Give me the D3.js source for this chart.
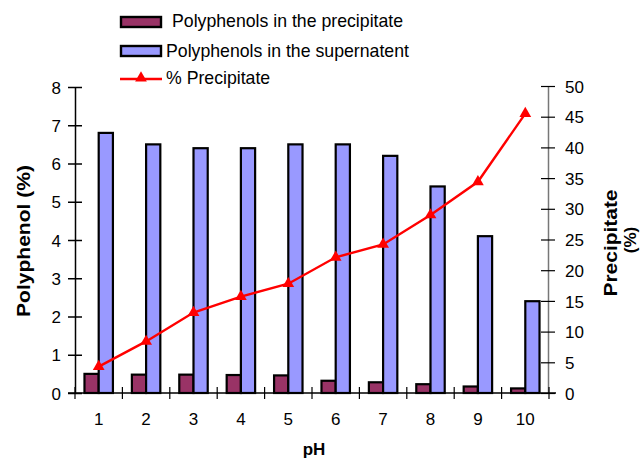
<!DOCTYPE html>
<html>
<head>
<meta charset="utf-8">
<script src="https://cdn.jsdelivr.net/npm/d3@7"></script>
<style>
  body { margin: 0; background: #fff; }
  svg { display: block; font-family: "Liberation Sans", Arial, sans-serif; }
  svg text { font-family: "Liberation Sans", Arial, sans-serif; }
</style>
</head>
<body>
<svg id="chart" width="644" height="458"></svg>
<script>
// pH categories and measured series
const phLevels = ["1", "2", "3", "4", "5", "6", "7", "8", "9", "10"];
const precipitatePolyphenols = [0.5, 0.48, 0.48, 0.47, 0.46, 0.32, 0.28, 0.23, 0.17, 0.12];
const supernatantPolyphenols = [6.8, 6.5, 6.4, 6.4, 6.5, 6.5, 6.2, 5.4, 4.1, 2.4];
const percentPrecipitate = [4.3, 8.4, 13.1, 15.7, 17.8, 22.1, 24.2, 29.0, 34.4, 45.5];
const leftTicks = [0, 1, 2, 3, 4, 5, 6, 7, 8];
const rightTicks = [0, 5, 10, 15, 20, 25, 30, 35, 40, 45, 50];

(function () {
const svg = d3.select("#chart");
const plotL = 75, plotR = 549, plotT = 87, plotB = 393;

const x = d3.scaleBand().domain(phLevels).range([plotL, plotR]).padding(0);
const yL = d3.scaleLinear().domain([0, 8]).range([plotB, plotT]);
const yR = d3.scaleLinear().domain([0, 50]).range([plotB, plotT - 1]);
const bw = x.bandwidth();

const colPrec = "#993366", colSup = "#9999FF", colLine = "#FF0000";

// bars
const g = svg.append("g");
g.selectAll("rect.prec").data(phLevels).join("rect")
  .attr("class", "prec")
  .attr("x", d => x(d) + bw * 0.2)
  .attr("width", bw * 0.3)
  .attr("y", (d, i) => yL(precipitatePolyphenols[i]))
  .attr("height", (d, i) => plotB - yL(precipitatePolyphenols[i]))
  .attr("fill", colPrec).attr("stroke", "#000").attr("stroke-width", 2.2);
g.selectAll("rect.sup").data(phLevels).join("rect")
  .attr("class", "sup")
  .attr("x", d => x(d) + bw * 0.5)
  .attr("width", bw * 0.3)
  .attr("y", (d, i) => yL(supernatantPolyphenols[i]))
  .attr("height", (d, i) => plotB - yL(supernatantPolyphenols[i]))
  .attr("fill", colSup).attr("stroke", "#000").attr("stroke-width", 2.2);

// left axis
const axL = svg.append("g").attr("transform", `translate(${plotL},0)`)
  .call(d3.axisLeft(yL).tickValues(leftTicks).tickSize(7).tickSizeOuter(0));
axL.attr("font-family", null).attr("font-size", null);
axL.select(".domain").attr("stroke", "#000").attr("stroke-width", 1.5);
axL.selectAll(".tick line").attr("x2", 7).attr("x1", -7).attr("stroke-width", 1.5);
axL.selectAll(".tick text").attr("x", -14).attr("dy", "0.36em")
  .style("font-size", "17px").attr("fill", "#000");

// right axis
const axR = svg.append("g").attr("transform", `translate(${plotR - 1},0)`)
  .call(d3.axisRight(yR).tickValues(rightTicks).tickSize(7).tickSizeOuter(0));
axR.attr("font-family", null).attr("font-size", null);
axR.select(".domain").attr("stroke", "#777").attr("stroke-width", 1.5);
axR.selectAll(".tick line").attr("x1", -7).attr("x2", 7).attr("stroke", "#000").attr("stroke-width", 1.2);
axR.selectAll(".tick text").attr("x", 17).attr("dy", "0.36em")
  .style("font-size", "17px").attr("fill", "#000");

// bottom axis: line, cross ticks at category boundaries, centred labels
const axB = svg.append("g").attr("transform", `translate(0,${plotB})`);
axB.append("line").attr("x1", plotL - 7).attr("x2", plotR + 7)
  .attr("stroke", "#000").attr("stroke-width", 1.5);
const bounds = phLevels.map(d => x(d)).concat([x(phLevels[phLevels.length - 1]) + bw]);
axB.selectAll("line.tk").data(bounds).join("line")
  .attr("class", "tk")
  .attr("x1", d => d).attr("x2", d => d).attr("y1", -6).attr("y2", 6)
  .attr("stroke", "#000").attr("stroke-width", 1.2);
axB.selectAll("text.lb").data(phLevels).join("text")
  .attr("class", "lb")
  .attr("x", d => x(d) + bw / 2).attr("y", 32)
  .attr("text-anchor", "middle").style("font-size", "17px").text(d => d);

// % precipitate line with triangle markers
const line = d3.line()
  .x((d, i) => x(phLevels[i]) + bw / 2)
  .y(d => yR(d));
svg.append("path").datum(percentPrecipitate)
  .attr("d", line).attr("fill", "none")
  .attr("stroke", colLine).attr("stroke-width", 2.4);
const tri = d3.symbol().type(d3.symbolTriangle).size(60);
svg.selectAll("path.mk").data(percentPrecipitate).join("path")
  .attr("class", "mk")
  .attr("transform", (d, i) => `translate(${x(phLevels[i]) + bw / 2},${yR(d)})`)
  .attr("d", tri).attr("fill", colLine);

// axis titles
svg.append("text").attr("transform", "translate(30,241) rotate(-90)")
  .attr("text-anchor", "middle").style("font-size", "19px").style("font-weight", "bold")
  .attr("textLength", 152).attr("lengthAdjust", "spacingAndGlyphs")
  .text("Polyphenol (%)");
svg.append("text").attr("transform", "translate(617,243) rotate(-90)")
  .attr("text-anchor", "middle").style("font-size", "19px").style("font-weight", "bold")
  .attr("textLength", 107).attr("lengthAdjust", "spacingAndGlyphs")
  .text("Precipitate");
svg.append("text").attr("transform", "translate(636,240) rotate(-90)")
  .attr("text-anchor", "middle").style("font-size", "17px").style("font-weight", "bold")
  .text("(%)");
svg.append("text").attr("x", 314).attr("y", 455)
  .attr("text-anchor", "middle").style("font-size", "17px").style("font-weight", "bold")
  .text("pH");

// legend
const leg = svg.append("g");
leg.append("rect").attr("x", 121).attr("y", 17).attr("width", 40).attr("height", 10)
  .attr("fill", colPrec).attr("stroke", "#000").attr("stroke-width", 2.4);
leg.append("text").attr("x", 172).attr("y", 27).style("font-size", "17.7px")
  .text("Polyphenols in the precipitate");
leg.append("rect").attr("x", 121).attr("y", 46).attr("width", 40).attr("height", 10)
  .attr("fill", colSup).attr("stroke", "#000").attr("stroke-width", 2.4);
leg.append("text").attr("x", 166).attr("y", 57).style("font-size", "17.7px")
  .text("Polyphenols in the supernatent");
leg.append("line").attr("x1", 120).attr("x2", 162).attr("y1", 79).attr("y2", 79)
  .attr("stroke", colLine).attr("stroke-width", 2.4);
leg.append("path").attr("transform", "translate(141,78)").attr("d", tri).attr("fill", colLine);
leg.append("text").attr("x", 166).attr("y", 84).style("font-size", "17.7px")
  .text("% Precipitate");
})();
</script>
</body>
</html>
